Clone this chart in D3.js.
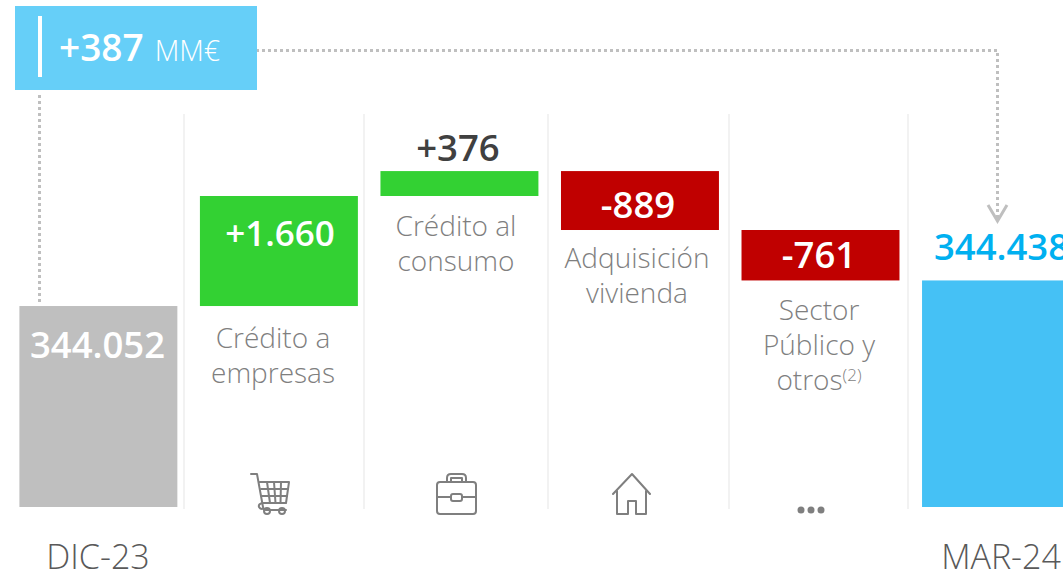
<!DOCTYPE html>
<html><head><meta charset="utf-8">
<script src="https://cdn.jsdelivr.net/npm/d3@7/dist/d3.min.js"></script>
<style>html,body{margin:0;padding:0;background:#fff;overflow:hidden}svg{display:block}text{font-family:"Open Sans",sans-serif}</style>
</head><body><svg id="c" width="1063" height="572"></svg>
<script>
const categories=["DIC-23","Crédito a empresas","Crédito al consumo","Adquisición vivienda","Sector Público y otros","MAR-24"];
const startValues=[0,344052,345712,346088,345199,0];
const endValues=[344052,345712,346088,345199,344438,344438];
const displayLabels=["344.052","+1.660","+376","-889","-761","344.438"];
const barColors=["#bfbfbf","#33d133","#33d133","#c00000","#c00000","#45c1f5"];
const labelColors=["#fff","#fff","#404040","#fff","#fff","#00b0f0"];
const captionLines=[[],["Crédito a","empresas"],["Crédito al","consumo"],["Adquisición","vivienda"],["Sector","Público y","otros"],[]];
const totalLabel="+387", totalUnit="MM€";

const W=1063,H=572;
const svg=d3.select("#c");
const x=d3.scaleBand().domain(categories).range([19.4,1080]).paddingInner(0.125).paddingOuter(0);
const y=d3.scaleLinear().domain([341020,345712]).range([507,196]);
const grey="#7f7f7f";

// separators
const seps=[184,364,548,729,908];
svg.selectAll("line.sep").data(seps).join("line").attr("x1",d=>d).attr("x2",d=>d).attr("y1",114).attr("y2",509)
  .attr("stroke","#f2f2f2").attr("stroke-width",2);

// bars
const base=y.domain()[0];
const tops=categories.map((c,i)=>Math.max(startValues[i],endValues[i]));
const bots=categories.map((c,i)=>startValues[i]===0?base:Math.min(startValues[i],endValues[i]));
svg.selectAll("rect.bar").data(categories).join("rect").attr("class","bar")
  .attr("x",d=>x(d)).attr("width",x.bandwidth())
  .attr("y",(d,i)=>y(tops[i])).attr("height",(d,i)=>y(bots[i])-y(tops[i]))
  .attr("fill",(d,i)=>barColors[i]);

// value labels
const labelY=[358,246,161,218,268,260];
const labelX=[97.5,280,458,638,819,1001.5];
const labelSize=[36.5,35,36.5,36.5,36.5,36.5];
svg.selectAll("text.val").data(displayLabels).join("text").attr("class","val")
  .attr("x",(d,i)=>labelX[i]).attr("y",(d,i)=>labelY[i]).attr("text-anchor","middle")
  .attr("font-size",(d,i)=>labelSize[i]).attr("font-weight",600).attr("fill",(d,i)=>labelColors[i]).text(d=>d);

// captions
const capX=[0,273,456,637,819,0], capY=[0,348,236,268,320,0];
captionLines.forEach((ls,i)=>ls.forEach((l,j)=>{
  const t=svg.append("text").attr("x",capX[i]).attr("y",capY[i]+j*35).attr("text-anchor","middle")
    .attr("font-size",28).attr("font-weight",300).attr("fill",grey).text(l);
  if(l==="otros") t.append("tspan").attr("font-size",17).attr("dy",-9).text("(2)");
}));

// axis labels
svg.append("text").attr("x",98).attr("y",569).attr("text-anchor","middle").attr("font-size",34).attr("font-weight",300).attr("fill","#595959").text(categories[0]);
svg.append("text").attr("x",1001).attr("y",569).attr("text-anchor","middle").attr("font-size",34).attr("font-weight",300).attr("fill","#595959").text(categories[5]);

// dotted connectors
const dot={stroke:"#bfbfbf","stroke-width":3,"stroke-dasharray":"3 3",fill:"none"};
const ap=(s)=>{for(const k in dot)s.attr(k,dot[k]);return s;};
ap(svg.append("path").attr("d","M39.500,95V305"));
ap(svg.append("path").attr("d","M250,50.500H997.500V218"));
svg.append("path").attr("d","M988,205L997.500,221L1007,205").attr("fill","none").attr("stroke","#bfbfbf").attr("stroke-width",3);

// total box
svg.append("rect").attr("x",15).attr("y",6).attr("width",242).attr("height",84).attr("fill","#66cff8");
svg.append("rect").attr("x",38).attr("y",16).attr("width",4).attr("height",61).attr("fill","#fff");
const tt=svg.append("text").attr("x",59).attr("y",61).attr("fill","#fff");
tt.append("tspan").attr("font-size",37).attr("font-weight",600).text(totalLabel);
tt.append("tspan").attr("dx",11).attr("font-size",28.5).attr("font-weight",300).text(totalUnit);

// icons
const ic=svg.append("g").attr("fill","none").attr("stroke",grey).attr("stroke-width",2).attr("stroke-linejoin","round").attr("stroke-linecap","round");
const cart=ic.append("g").attr("transform","translate(250,473)");
cart.append("path").attr("d","M1,1H7L13,34Q13,37 16,37H36M10,9H39L36,30H12.500Q8,31 9,34Q10,36 12,36");
cart.append("path").attr("d","M17,9L20,30M24,9L25.500,30M31,9L30.500,30M11,16H38M12,23H37");
cart.append("circle").attr("cx",17).attr("cy",38).attr("r",3);
cart.append("circle").attr("cx",32).attr("cy",38).attr("r",3);
const bag=ic.append("g").attr("transform","translate(436,473)");
bag.append("rect").attr("x",1).attr("y",9).attr("width",39).attr("height",32).attr("rx",3);
bag.append("path").attr("d","M11,9V5Q11,1 15,1H26Q30,1 30,5V9M15,9V5H26V9M1,24H15M26,24H40");
bag.append("rect").attr("x",15).attr("y",21).attr("width",11).attr("height",7).attr("rx",2);
const house=ic.append("g").attr("transform","translate(612,473)");
house.append("path").attr("d","M1,21L20,1L38,21M5,18V41H16V28H24V41H34V18");
svg.selectAll("circle.d").data([801,811,821]).join("circle").attr("cx",d=>d).attr("cy",510).attr("r",3.500).attr("fill",grey);
</script></body></html>
